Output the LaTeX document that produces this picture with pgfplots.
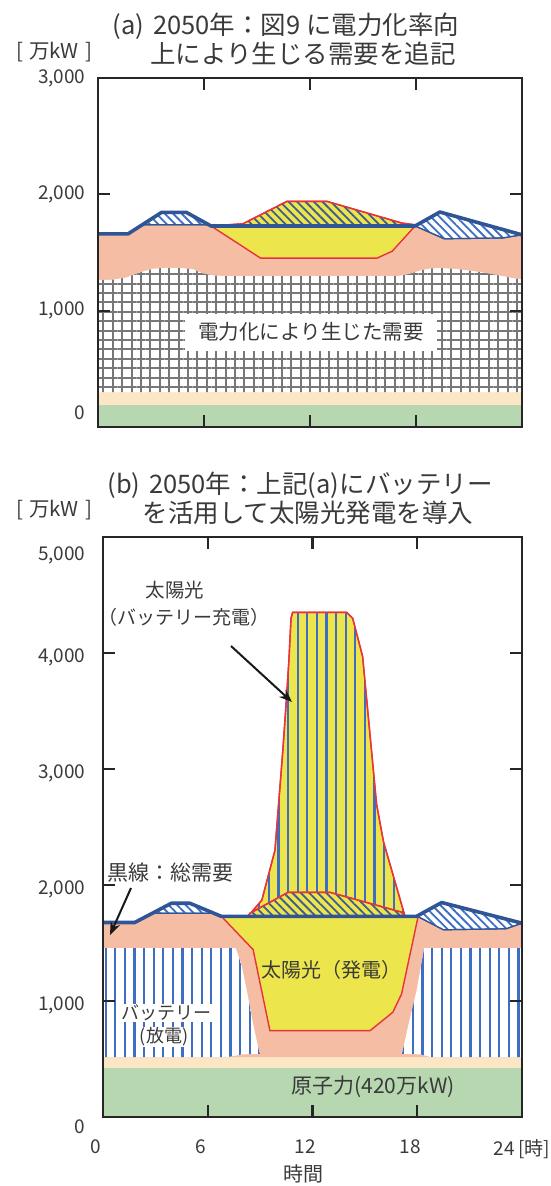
\documentclass[border=0pt]{standalone}
\usepackage{pgfplots}
\pgfplotsset{compat=1.18}
\usepackage{fontspec}
\setmainfont{Noto Sans CJK JP}
\usetikzlibrary{patterns.meta,arrows.meta}

\definecolor{cgreen}{HTML}{B6D7AF}
\definecolor{ccream}{HTML}{FBE7C6}
\definecolor{csalmon}{HTML}{F5BDA3}
\definecolor{cyellow}{HTML}{EDE54C}
\definecolor{cred}{HTML}{E8323C}
\definecolor{cblue}{HTML}{2F5597}
\definecolor{cstripe}{HTML}{3E6EC4}
\definecolor{chatch}{HTML}{3C5C92}
\definecolor{cgrid}{HTML}{777777}
\definecolor{ctext}{HTML}{3A3A3A}

\pgfplotsset{
  panel/.style={
    scale only axis, xmin=0, xmax=24, axis on top,
    axis line style={line width=2.2pt, color=black!85},
    tick style={line width=2.2pt, color=black!85},
    major tick length=12pt,
    tick align=inside,
    /pgf/number format/assume math mode=true,
    ticklabel style={font=\fontsize{19}{20}\selectfont, text=ctext},
  },
  region/.style={draw=none, fill=#1},
  bluehatch/.style={fill=white, draw=cblue, line width=1.2pt,
    postaction={pattern={Lines[angle=-45,distance=6pt,line width=1.8pt]}, pattern color=cstripe}},
  yelhatch/.style={fill=cyellow, draw=cred, line width=1.4pt,
    postaction={pattern={Lines[angle=-45,distance=6pt,line width=1.8pt]}, pattern color=chatch}},
  vstripes/.style={postaction={pattern={Lines[angle=90,distance=9.6pt,line width=2.2pt]}, pattern color=cstripe}},
  demand/.style={cblue, line width=3.6pt, line join=round},
}

\begin{document}
\begin{tikzpicture}[x=1pt,y=1pt]
\path[use as bounding box] (0,0) rectangle (551,-1186);

% ---------------- panel (a) ----------------
\begin{axis}[panel, at={(98pt,-427pt)}, anchor=south west,
  width=424pt, height=349pt, ymin=0, ymax=3000,
  xtick={6,12,18}, xticklabels={},
  ytick={0,1000,2000,3000},
  yticklabels={{\raisebox{8pt}[0pt][0pt]{0}},{1,000},{2,000},{3,000}},
  yticklabel style={xshift=-9pt}]
% nuclear
\addplot[region=cgreen] coordinates {(0,0)(24,0)(24,190)(0,190)} -- cycle;
% base
\addplot[region=ccream] coordinates {(0,190)(24,190)(24,300)(0,300)} -- cycle;
% salmon (other supply)
\addplot[region=csalmon] coordinates {(0,1100)(0,1655)(1.7,1655)(2.55,1738)(6.28,1738)(6.4,1728)(9.2,1452)(15.8,1452)(16.65,1511)(17.95,1728)(19.6,1618)(22.9,1625)(24,1652)(24,1100)} -- cycle;
% demand from electrification (grid)
\addplot[fill=white, draw=none, postaction={pattern={Hatch[angle=0,distance=9.4pt,line width=2pt]}, pattern color=cgrid}]
  coordinates {(0,300)(0,1264)(0.8,1266)(1.6,1285)(2.4,1330)(3.1,1360)(3.6,1366)(4.8,1366)(5.4,1355)(5.9,1322)(6.5,1303)(7.2,1298)(17,1298)(17.6,1315)(18.3,1348)(18.9,1364)(19.5,1366)(20.5,1355)(21.5,1335)(22.5,1310)(23.3,1285)(24,1268)(24,300)} -- cycle;
% solar
\addplot[fill=cyellow, draw=cred, line width=1.4pt] coordinates {(6.4,1728)(9.2,1452)(15.8,1452)(16.65,1511)(17.95,1728)} -- cycle;
% solar surplus (hatched)
\addplot[yelhatch] coordinates {(6.4,1728)(8.2,1747)(10.7,1940)(12.95,1940)(17.2,1753)(17.95,1738)(17.95,1728)} -- cycle;
% blue hatched peaks
\addplot[bluehatch] coordinates {(2.55,1738)(3.6,1845)(5.0,1845)(6.28,1738)} -- cycle;
\addplot[bluehatch] coordinates {(17.95,1728)(19.35,1848)(24,1652)(22.9,1625)(19.6,1618)} -- cycle;
% total demand
\addplot[demand] coordinates {(0,1660)(1.7,1660)(3.6,1845)(5.0,1845)(6.4,1728)(17.95,1728)(19.35,1848)(24,1652)};
\end{axis}

% ---------------- panel (b) ----------------
\begin{axis}[panel, at={(103pt,-1117pt)}, anchor=south west,
  width=419pt, height=580pt, ymin=0, ymax=5000,
  xtick={0,6,12,18,24},
  xticklabels={0,6,12,18,{\hspace*{14pt}24\,[時]}},
  xticklabel style={xshift=-7pt, yshift=-19pt},
  ytick={0,1000,2000,3000,4000,5000},
  yticklabels={{\raisebox{-12pt}[0pt][0pt]{0}},{1,000},{2,000},{3,000},{4,000},{\raisebox{-19pt}[0pt][0pt]{5,000}}},
  yticklabel style={xshift=-14pt, yshift=-4pt}]
\addplot[region=cgreen] coordinates {(0,0)(24,0)(24,424)(0,424)} -- cycle;
\addplot[region=ccream] coordinates {(0,424)(24,424)(24,516)(0,516)} -- cycle;
\addplot[region=csalmon] coordinates {(0,516)(0,1670)(1.82,1670)(2.85,1757)(6.34,1757)(6.79,1729)(8.6,1443)(9.56,745)(15.3,745)(16.6,903)(17.1,1060)(18.05,1729)(19.5,1614)(23.1,1623)(24,1671)(24,516)} -- cycle;
% battery discharge
\addplot[fill=white, draw=none, vstripes] coordinates {(0,516)(0,1457)(7.6,1457)(7.95,1300)(8.25,1080)(8.6,800)(8.95,560)(9.0,545)(8.0,540)(7.1,516)} -- cycle;
\addplot[fill=white, draw=none, vstripes] coordinates {(24,516)(24,1457)(18.4,1457)(17.96,1088)(17.5,800)(17.15,560)(17.1,545)(18.2,540)(18.8,516)} -- cycle;
% solar generation
\addplot[fill=cyellow, draw=cred, line width=1.4pt] coordinates {(6.79,1729)(8.6,1443)(9.56,745)(15.3,745)(16.6,903)(17.1,1060)(18.05,1729)} -- cycle;
% solar to battery charge
\addplot[fill=cyellow, draw=cred, line width=1.4pt, vstripes] coordinates {(8.3,1729)(9.1,1870)(9.85,2300)(10.3,3160)(10.5,3590)(10.65,3940)(10.77,4300)(10.86,4350)(13.97,4350)(14.3,4300)(14.87,3971)(15.67,2696)(16.07,2371)(17.3,1729)} -- cycle;
\addplot[yelhatch] coordinates {(8.3,1729)(8.42,1757)(10.6,1937)(13.0,1937)(17.1,1766)(17.3,1729)} -- cycle;
\addplot[bluehatch] coordinates {(2.85,1757)(3.92,1843)(4.97,1843)(6.34,1757)} -- cycle;
\addplot[bluehatch] coordinates {(17.95,1729)(19.4,1849)(24,1671)(23.1,1623)(19.5,1614)(18.07,1725)} -- cycle;
\addplot[demand] coordinates {(0,1677)(1.82,1677)(3.92,1843)(4.97,1843)(6.79,1729)(17.95,1729)(19.4,1849)(24,1671)};
\end{axis}

% ---------------- texts ----------------
\begin{scope}[every node/.style={text=ctext, inner sep=0pt}]
\node[font=\fontsize{25.5}{27}\selectfont] at (286,-26) {(a)\hspace{0.35em}2050年：図9 に電力化率向};
\node[font=\fontsize{25.5}{27}\selectfont] at (303,-54) {上により生じる需要を追記};
\node[font=\fontsize{20.5}{21}\selectfont] at (54,-52) {[\hspace{0.3em}万kW\hspace{0.3em}]};
\node[fill=white, minimum width=252pt, minimum height=37pt, font=\fontsize{20.5}{21}\selectfont] at (311,-332) {電力化により生じた需要};

\node[font=\fontsize{25.5}{27}\selectfont] at (300,-485) {(b)\hspace{0.35em}2050年：上記(a)にバッテリー};
\node[font=\fontsize{25.5}{27}\selectfont] at (308,-513) {を活用して太陽光発電を導入};
\node[font=\fontsize{20.5}{21}\selectfont] at (54,-510) {[\hspace{0.3em}万kW\hspace{0.3em}]};

\node[font=\fontsize{19.5}{20}\selectfont] at (175,-590) {太陽光};
\node[font=\fontsize{19}{20}\selectfont] at (184,-617) {（バッテリー充電）};
\draw[-{Stealth[length=13pt,width=10pt]}, line width=2pt, black!90] (231,-646) -- (292,-702);
\node[font=\fontsize{21}{22}\selectfont] at (170,-873) {黒線：総需要};
\draw[-{Stealth[length=13pt,width=10pt]}, line width=2pt, black!90] (131,-888) -- (110,-935);
\node[font=\fontsize{20}{21}\selectfont] at (331,-970) {太陽光（発電）};
\node[fill=white, inner sep=1pt, font=\fontsize{18}{19}\selectfont] at (166,-1013) {バッテリー};
\node[fill=white, inner sep=1pt, font=\fontsize{18}{19}\selectfont] at (164,-1037) {(放電)};
\node[font=\fontsize{21}{22}\selectfont] at (373,-1087) {原子力(420万kW)};
\node[font=\fontsize{20}{21}\selectfont] at (303,-1174) {時間};
\end{scope}
\end{tikzpicture}
\end{document}
